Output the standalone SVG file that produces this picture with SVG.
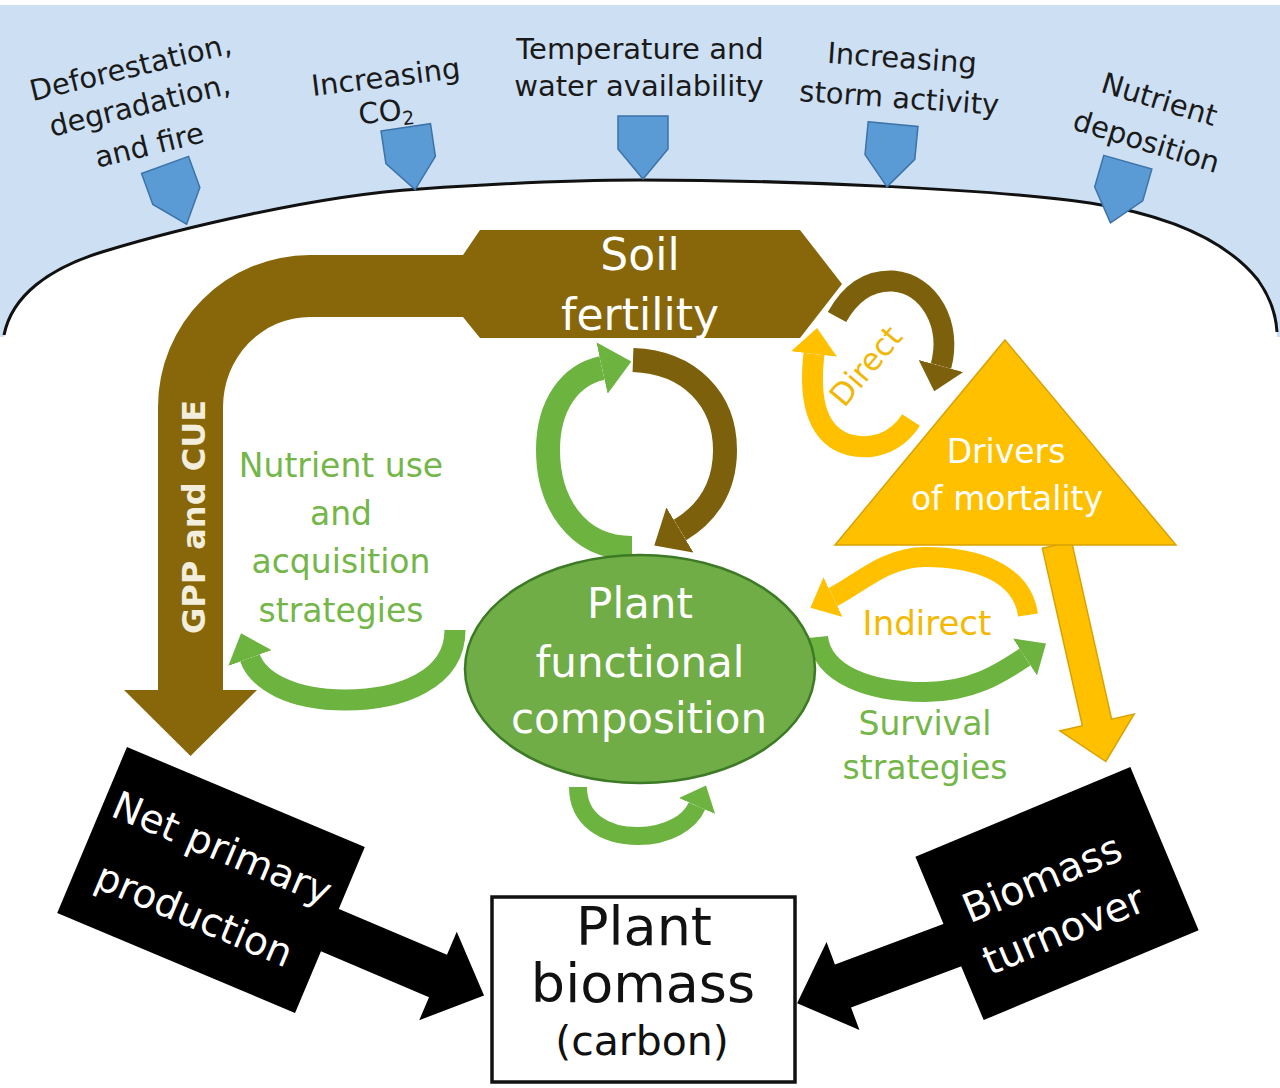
<svg xmlns="http://www.w3.org/2000/svg" width="1280" height="1088" viewBox="0 0 1280 1088">
<defs>
<style>
text{font-family:"DejaVu Sans","Liberation Sans",sans-serif}
.top{font-size:29px;fill:#1a1a1a;text-anchor:middle}
.drv{fill:#5b9bd5;stroke:#3c73a8;stroke-width:1.5}
.arc{fill:none}
.g{stroke:#6cb33f}
.b{stroke:#7d600b}
.y{stroke:#ffc000}
.gtxt{fill:#74b649;text-anchor:middle;font-size:33px}
.wt{fill:#ffffff;text-anchor:middle}
.blk{fill:#000}
</style>
<path id="shield" d="M-25,-32 H25 V1 L0,31 L-25,1 Z"/>
<marker id="mg" viewBox="0 -1.1 1.25 2.2" refX="0" refY="0" markerWidth="1.25" markerHeight="2.2" orient="auto" markerUnits="strokeWidth"><path d="M0,-1.1 L1.25,0 L0,1.1Z" fill="#6cb33f"/></marker>
<marker id="mb" viewBox="0 -1.1 1.25 2.2" refX="0" refY="0" markerWidth="1.25" markerHeight="2.2" orient="auto" markerUnits="strokeWidth"><path d="M0,-1.1 L1.25,0 L0,1.1Z" fill="#7d600b"/></marker>
<marker id="my" viewBox="0 -1.1 1.25 2.2" refX="0" refY="0" markerWidth="1.25" markerHeight="2.2" orient="auto" markerUnits="strokeWidth"><path d="M0,-1.1 L1.25,0 L0,1.1Z" fill="#ffc000"/></marker>
</defs>

<g id="background">
<rect x="0" y="0" width="1280" height="1088" fill="#ffffff"/>
<rect x="0" y="5" width="1280" height="332" fill="#cddff3"/>
<path d="M4,335 C12,295 50,268 102,252 C180,228 320,195 420,189 C520,182 580,180 640,180 C800,180 1000,190 1090,203 C1180,217 1230,245 1258,280 C1270,297 1276,315 1277,337 L4,337 Z" fill="#ffffff"/>
<path d="M4,335 C12,295 50,268 102,252 C180,228 320,195 420,189 C520,182 580,180 640,180 C800,180 1000,190 1090,203 C1180,217 1230,245 1258,280 C1270,297 1276,315 1277,332" fill="none" stroke="#111" stroke-width="3"/>
</g>

<g id="driver-deforestation" transform="translate(142,115) rotate(-13.5)">
<text class="top" y="-39">Deforestation,</text>
<text class="top" y="0">degradation,</text>
<text class="top" y="41">and fire</text>
</g>
<g id="driver-co2" transform="translate(387,87) rotate(-7)">
<text class="top" y="0">Increasing</text>
<text class="top" x="-4" y="34">CO<tspan font-size="19" dy="6">2</tspan></text>
</g>
<g id="driver-temperature">
<text class="top" x="640" y="59">Temperature and</text>
<text class="top" x="639" y="96">water availability</text>
</g>
<g id="driver-storm" transform="translate(900,88) rotate(4)">
<text class="top" y="-20">Increasing</text>
<text class="top" y="20">storm activity</text>
</g>
<g id="driver-nutrient" transform="translate(1150,130) rotate(17)">
<text class="top" y="-22">Nutrient</text>
<text class="top" y="22">deposition</text>
</g>

<g id="soil-fertility">
<path d="M158,690 L158,407 A152,152 0 0 1 310,255 L463,255 L480,230 L800,230 L842,284 L800,338 L480,338 L463,317 L310,317 A87,90 0 0 0 223,407 L223,690 L257,690 L190.5,756 L124,690 Z" fill="#876709"/>
<text class="wt" x="640" y="270" font-size="44" fill="#efebdd">Soil</text>
<text class="wt" x="640" y="330" font-size="44" fill="#efebdd">fertility</text>
<text transform="translate(205,517) rotate(-90)" text-anchor="middle" font-size="32" font-weight="bold" fill="#f3eedc">GPP and CUE</text>
</g>

<g id="connectors">
<use href="#shield" class="drv" transform="translate(176,195) rotate(-20)"/>
<use href="#shield" class="drv" transform="translate(410.5,159) rotate(-8.5)"/>
<use href="#shield" class="drv" transform="translate(643,148)"/>
<use href="#shield" class="drv" transform="translate(890,156) rotate(5.5)"/>
<use href="#shield" class="drv" transform="translate(1119,193) rotate(16)"/>

<path class="arc g" stroke-width="24" marker-end="url(#mg)" d="M632,548 C575,548 548,500 548,450 C548,405 570,375 602,368"/>
<path class="arc b" stroke="#86660a" stroke-width="24" marker-end="url(#mb)" d="M633,360 C690,362 725,400 725,450 C725,490 705,515 680,530"/>

<path class="arc g" stroke-width="21" marker-end="url(#mg)" d="M455,630 C455,680 400,700 345,700 C290,700 258,680 250,658"/>
<path class="arc g" stroke-width="18" marker-end="url(#mg)" d="M578,787 C578,820 605,836 638,836 C668,836 690,822 697,806"/>

<path class="arc y" stroke-width="20" marker-end="url(#my)" d="M1028,615 C1022,572 975,557 925,557 C885,557 858,585 833,597"/>
<path class="arc g" stroke-width="20" marker-end="url(#mg)" d="M818,637 C822,675 870,692 925,692 C975,692 1005,670 1025,657"/>

<path class="arc b" stroke-width="21" marker-end="url(#mb)" d="M837,317 C852,290 872,280 893,281 C930,284 952,325 941,366"/>
<path class="arc y" stroke-width="21" marker-end="url(#my)" d="M911,420 C895,445 870,450 850,445 C820,437 808,405 814,354"/>

<polygon points="1042.4,548.3 1071.6,541.7 1111.6,719.2 1134.1,714.1 1105.8,761.5 1059.9,730.9 1082.4,725.8" fill="#ffc000" stroke="#d9a200" stroke-width="1.5"/>

<polygon class="blk" transform="translate(438,976) rotate(23)" points="-150,-23 0,-23 0,-48 50,0 0,48 0,23 -150,23"/>
<polygon class="blk" transform="translate(843,986) rotate(159.5)" points="-150,-23 0,-23 0,-47 49,0 0,47 0,23 -150,23"/>
</g>

<g id="label-nutrient-use">
<text class="gtxt" x="341" y="477">Nutrient use</text>
<text class="gtxt" x="341" y="525">and</text>
<text class="gtxt" x="341" y="573">acquisition</text>
<text class="gtxt" x="341" y="622">strategies</text>
</g>

<g id="label-direct">
<text transform="translate(874,373) rotate(-50)" text-anchor="middle" font-size="31" fill="#f2b705">Direct</text>
</g>

<g id="label-indirect">
<text x="927" y="635" text-anchor="middle" font-size="34" fill="#f5b800">Indirect</text>
</g>

<g id="label-survival">
<text class="gtxt" x="925" y="735">Survival</text>
<text class="gtxt" x="925" y="779">strategies</text>
</g>

<g id="drivers-of-mortality">
<polygon points="1005,340 1176,545 835,545" fill="#ffc000" stroke="#d9a200" stroke-width="1.5"/>
<text class="wt" x="1006" y="463" font-size="33" fill="#fdf2cc">Drivers</text>
<text class="wt" x="1007" y="510" font-size="33" fill="#fdf2cc">of mortality</text>
</g>

<g id="plant-functional-composition">
<ellipse cx="640" cy="669" rx="175" ry="114" fill="#70ad47" stroke="#3d7a25" stroke-width="2.5"/>
<text class="wt" x="640" y="618" font-size="42" fill="#f2f6ee">Plant</text>
<text class="wt" x="640" y="677" font-size="42" fill="#f2f6ee">functional</text>
<text class="wt" x="639" y="733" font-size="42" fill="#f2f6ee">composition</text>
</g>

<g id="net-primary-production" transform="translate(211,880) rotate(22.8)">
<rect x="-129" y="-90" width="258" height="180" fill="#000"/>
<text class="wt" x="-2" y="-20" font-size="39">Net primary</text>
<text class="wt" x="-2" y="52" font-size="39">production</text>
</g>

<g id="biomass-turnover" transform="translate(1057,893.5) rotate(-22.7)">
<rect x="-116.5" y="-88.5" width="233" height="177" fill="#000"/>
<text class="wt" x="-8" y="-6" font-size="40">Biomass</text>
<text class="wt" x="-8" y="50" font-size="40">turnover</text>
</g>

<g id="plant-biomass">
<rect x="492" y="897" width="303" height="185" fill="#fff" stroke="#111" stroke-width="3.5"/>
<text x="644" y="945" text-anchor="middle" font-size="54" fill="#111">Plant</text>
<text x="643" y="1002" text-anchor="middle" font-size="54" fill="#111">biomass</text>
<text x="642" y="1055" text-anchor="middle" font-size="41" fill="#111">(carbon)</text>
</g>
</svg>
